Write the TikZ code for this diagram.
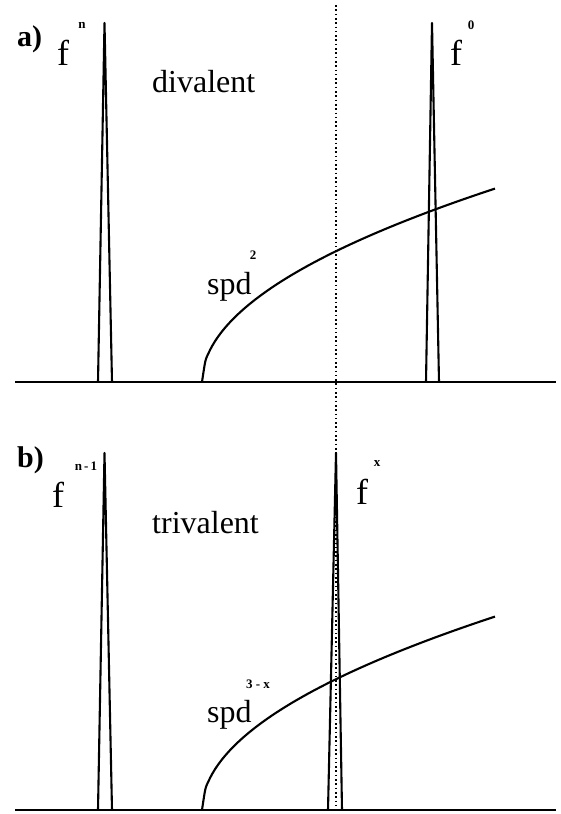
\documentclass[tikz,border=0pt]{standalone}
\usepackage{fontspec}
\setmainfont{Liberation Serif}

\begin{document}
\begin{tikzpicture}[
  x=1pt,y=-1pt,
  axis/.style={line width=2.4pt},
  peak/.style={line width=2.1pt,line join=round},
  band/.style={line width=2.1pt,smooth,samples=90},
  fermi/.style={line width=1.7pt,dash pattern=on 1.6pt off 2.7pt},
  tag/.style={font=\fontsize{30}{30}\selectfont\bfseries,anchor=base west,inner sep=0pt},
  orb/.style={font=\fontsize{36}{36}\selectfont,anchor=base west,inner sep=0pt},
  word/.style={font=\fontsize{32}{32}\selectfont,anchor=base west,inner sep=0pt},
  occ/.style={font=\fontsize{13}{13}\selectfont\bfseries,inner sep=0pt},
]
\useasboundingbox (0,0) rectangle (560,814);

% a) divalent
\draw[axis] (15,382) -- (556,382);
\draw[peak] (98,382) -- (104.5,23) -- (112,382);
\draw[peak] (426,382) -- (432,23) -- (439,382);
\draw[band] plot[domain=202:495] (\x,{382-11.3*sqrt(\x-202)});

\node[tag] (tagA) at (17,46) {a)};
\node[orb] (fnA) at (57,65) {f};
\node[occ] (nA) at (82,25) {n};
\node[word] (divalent) at (152,92) {divalent};
\node[orb] (f0A) at (450,65) {f};
\node[occ] (zeroA) at (471,25) {0};
\node[word] (spdA) at (207,294) {spd};
\node[occ] (twoA) at (253,255) {2};

% b) trivalent
\draw[axis] (15,810) -- (556,810);
\draw[peak] (98,810) -- (104.5,453) -- (112,810);
\draw[peak] (328,810) -- (336,453) -- (342,810);
\draw[band] plot[domain=202:495] (\x,{810-11.3*sqrt(\x-202)});

\node[tag] (tagB) at (17,467) {b)};
\node[orb] (fnB) at (52,507) {f};
\node[occ] (nB) at (86,466) {n\,-\,1};
\node[word] (trivalent) at (152,533) {trivalent};
\node[orb] (fxB) at (356,504) {f};
\node[occ] (xB) at (377,464) {x};
\node[word] (spdB) at (207,722) {spd};
\node[occ] (valB) at (258,684) {3 - x};

% Fermi level
\draw[fermi] (336,5) -- (336,810);

\end{tikzpicture}
\end{document}
